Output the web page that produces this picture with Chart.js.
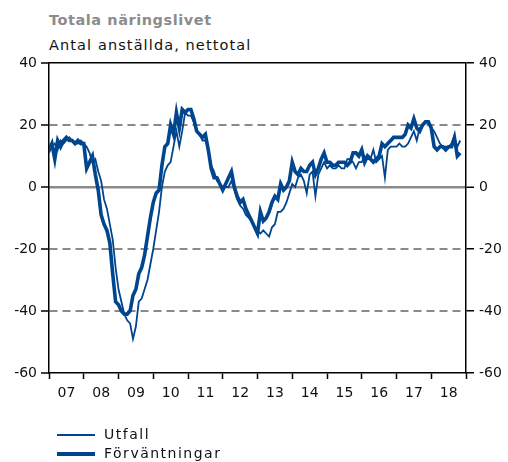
<!DOCTYPE html>
<html>
<head>
<meta charset="utf-8">
<script src="https://cdn.jsdelivr.net/npm/chart.js@4.4.1/dist/chart.umd.min.js"></script>
<style>
body { margin: 0; width: 508px; height: 462px; position: relative; overflow: hidden; background: #fff; font-family: "DejaVu Sans", Verdana, sans-serif; }
#rubrik { position: absolute; left: 49px; top: 12px; font-size: 14.5px; font-weight: bold; color: #8c8c8c; letter-spacing: 0.55px; }
#under { position: absolute; left: 49px; top: 37px; font-size: 14.5px; color: #111; letter-spacing: 1.1px; }
canvas { position: absolute; left: 0; top: 0; }
.leg { position: absolute; left: 57px; font-size: 14px; color: #111; letter-spacing: 1.5px; line-height: 18px; }
.leg span { display: inline-block; width: 38px; background: #00468e; vertical-align: middle; margin-right: 9px; }
</style>
</head>
<body>
<div id="rubrik">Totala näringslivet</div>
<div id="under">Antal anställda, nettotal</div>
<canvas id="graf" width="508" height="462"></canvas>
<div class="leg" style="top:425px"><span style="height:2px"></span>Utfall</div>
<div class="leg" style="top:444px"><span style="height:4px"></span>Förväntningar</div>
<script>
// årsetiketter, jan 2007 - dec 2018
const aar = ['07', '08', '09', '10', '11', '12', '13', '14', '15', '16', '17', '18'];

// månadsvärden från jan 2007
const utfall = [
    11, 13, 14, 12, 15, 14, 15, 16, 15, 14, 14, 15,
    14, 13, 11, 8, 9, 5, 2, -4, -7, -12, -17, -26,
    -33, -37, -41, -43, -44, -49, -45, -37, -36, -33, -30, -25,
    -20, -14, -8, 0, 5, 7, 8, 13, 18, 13, 18, 24,
    23, 23, 21, 18, 17, 15, 15, 12, 7, 5, 2, 1,
    0, 0, 0, 2, -1, -4, -6, -7, -9, -10, -11, -13,
    -14, -15, -14, -15, -16, -13, -12, -8, -8, -7, -5, -2,
    1, 0, 3, 4, 2, -2, 4, 5, -3, 4, 6, 8,
    6, 7, 6, 6, 7, 6, 6, 9, 9, 8, 6, 8,
    8, 10, 9, 9, 12, 8, 9, 10, 3, 12, 13, 13,
    13, 14, 13, 13, 14, 16, 18, 15, 19, 20, 21, 21,
    19, 18, 16, 14, 13, 13, 13, 14, 16, 13, 15
];

const forvantningar = [
    12, 14, 9, 15, 13, 15, 16, 15, 15, 14, 15, 14,
    14, 6, 8, 10, 4, -1, -9, -12, -14, -18, -28, -37,
    -38, -40, -41, -41, -40, -35, -33, -28, -26, -22, -16, -10,
    -5, -2, -1, 7, 13, 14, 20, 17, 24, 19, 25, 24,
    25, 25, 22, 18, 17, 16, 17, 12, 6, 3, 3, 1,
    -1, 1, 3, 5, 0, -3, -5, -4, -7, -9, -11, -13,
    -15, -8, -11, -10, -8, -5, -3, -4, 1, -1, 0, 2,
    8, 5, 4, 6, 5, 5, 7, 8, 4, 6, 9, 11,
    8, 8, 7, 7, 8, 8, 8, 7, 8, 11, 11, 10,
    12, 8, 10, 9, 8, 9, 10, 14, 13, 14, 15, 16,
    16, 16, 16, 17, 20, 19, 22, 19, 18, 20, 21, 21,
    19, 13, 12, 13, 13, 12, 13, 13, 16, 10, 11
];

const bla = '#00468e';
const gra = '#8a8a8a';
const typsnitt = { family: '"DejaVu Sans", Verdana, sans-serif', size: 14 };

function punkter(serie) {
    return serie.map((v, i) => ({ x: i, y: v }));
}

new Chart(document.getElementById('graf'), {
    type: 'line',
    data: {
        datasets: [
            {
                label: 'Utfall',
                data: punkter(utfall),
                borderColor: bla,
                borderWidth: 1.8,
                pointRadius: 0,
                tension: 0,
                yAxisID: 'y'
            },
            {
                label: 'Förväntningar',
                data: punkter(forvantningar),
                borderColor: bla,
                borderWidth: 3.6,
                pointRadius: 0,
                tension: 0,
                yAxisID: 'y'
            }
        ]
    },
    options: {
        responsive: false,
        animation: false,
        layout: { padding: { top: 63, bottom: 59, left: 0, right: 0 } },
        plugins: { legend: { display: false }, tooltip: { enabled: false } },
        scales: {
            x: {
                type: 'linear',
                min: 0,
                max: 144,
                afterBuildTicks: s => {
                    s.ticks = [];
                    for (let v = 0; v <= 144; v += 6) s.ticks.push({ value: v });
                },
                afterFit: s => { s.height = 30; },
                ticks: {
                    autoSkip: false,
                    maxRotation: 0,
                    padding: 6,
                    color: '#111',
                    font: typsnitt,
                    callback: v => (v % 12 === 6 ? aar[(v - 6) / 12] : '')
                },
                grid: {
                    drawOnChartArea: false,
                    tickLength: 6,
                    tickWidth: 1.5,
                    tickColor: c => (c.tick && c.tick.value % 12 === 0 ? '#000' : 'rgba(0,0,0,0)')
                },
                border: { color: '#000', width: 1.5 }
            },
            y: {
                position: 'left',
                min: -60,
                max: 40,
                afterFit: s => { s.width = 49; },
                ticks: { stepSize: 20, padding: 4, color: '#111', font: typsnitt },
                grid: {
                    color: c => ([20, -20, -40].includes(c.tick.value) ? gra : 'rgba(0,0,0,0)'),
                    lineWidth: 2,
                    tickLength: 8,
                    tickWidth: 1.5,
                    tickColor: '#000'
                },
                border: { color: '#000', width: 1.5, dash: [8, 5] }
            },
            y2: {
                position: 'right',
                min: -60,
                max: 40,
                afterFit: s => { s.width = 42; },
                ticks: { stepSize: 20, padding: 5, color: '#111', font: typsnitt },
                grid: {
                    color: c => (c.tick.value === 0 ? gra : (c.tick.value === 40 ? '#000' : 'rgba(0,0,0,0)')),
                    lineWidth: c => (c.tick.value === 0 ? 2.5 : 1.5),
                    tickLength: 8,
                    tickWidth: 1.5,
                    tickColor: '#000'
                },
                border: { color: '#000', width: 1.5 }
            }
        }
    }
});
</script>
</body>
</html>
